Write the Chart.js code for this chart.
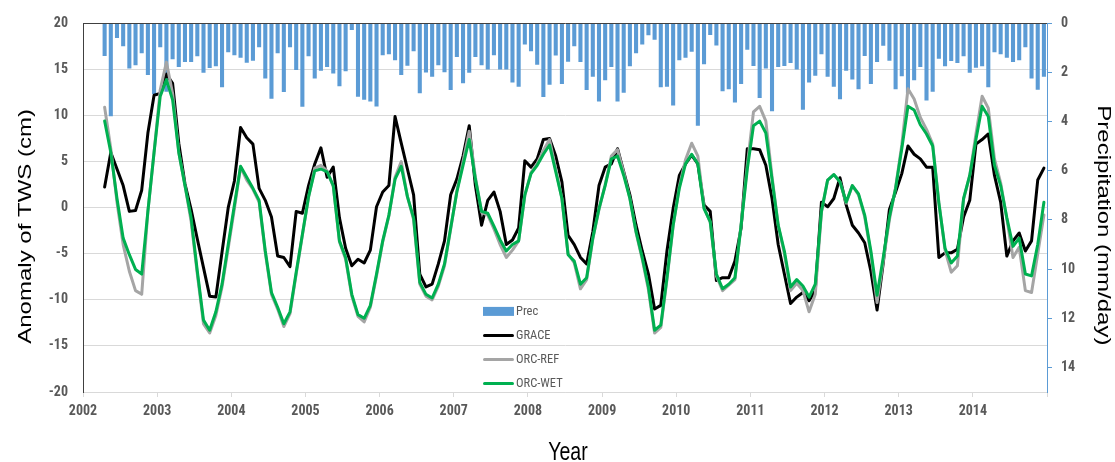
<!DOCTYPE html>
<html>
<head>
<meta charset="utf-8">
<title>TWS anomaly and precipitation</title>
<script src="https://cdn.jsdelivr.net/npm/chart.js@4.4.1/dist/chart.umd.min.js"></script>
<style>
  html, body { margin: 0; padding: 0; background: #ffffff; }
  #wrap { position: relative; width: 1115px; height: 462px; }
</style>
</head>
<body>
<div id="wrap"><canvas id="chart" width="1115" height="462"></canvas></div>
<script>
// Monthly series, April 2002 - December 2014 (one row per calendar year)
const firstYear = 2002;
const firstMonth = 4;

// Precipitation (mm/day)
const prec = [
  1.33, 3.78, 0.59, 0.93, 1.84, 1.70, 1.21, 2.10, 2.88,
  0.97, 2.78, 1.46, 1.77, 1.57, 1.57, 1.34, 2.01, 1.81, 1.74, 2.60, 1.17,
  1.30, 1.40, 1.60, 1.52, 0.97, 2.24, 3.07, 1.21, 2.79, 0.97, 1.90, 3.39,
  1.34, 2.24, 1.93, 1.77, 2.04, 2.56, 1.95, 0.27, 2.98, 3.11, 3.18, 3.38,
  1.30, 1.26, 1.50, 2.10, 1.72, 1.13, 2.84, 2.00, 2.17, 1.70, 1.99, 2.71,
  1.37, 2.44, 2.01, 1.37, 1.70, 1.88, 1.30, 1.88, 1.88, 2.40, 2.58, 0.86,
  1.13, 1.68, 3.00, 2.50, 1.31, 2.47, 1.56, 0.93, 1.57, 2.71, 2.17, 3.18,
  2.31, 1.77, 3.18, 2.82, 1.74, 1.21, 0.86, 0.48, 0.67, 2.60, 2.58, 3.34,
  1.50, 1.40, 1.15, 4.16, 1.66, 0.47, 0.90, 2.76, 2.68, 3.22, 2.47, 1.07,
  1.73, 3.04, 1.84, 3.58, 1.77, 1.73, 1.61, 1.88, 3.51, 2.40, 2.13, 1.26,
  2.17, 2.58, 3.09, 1.93, 2.28, 2.68, 1.33, 2.47, 1.57, 0.91, 1.52, 2.68,
  2.15, 2.84, 2.31, 1.77, 3.14, 2.78, 1.44, 1.74, 1.53, 1.61, 1.34, 2.01,
  1.80, 1.74, 2.60, 1.17, 1.26, 1.40, 1.57, 1.50, 0.97, 2.24, 2.70, 2.17
];

// GRACE TWS anomaly (cm)
const grace = [
  2.25, 6.0, 4.2, 2.4, -0.4, -0.3, 1.9, 8.1, 12.2,
  12.4, 14.5, 13.5, 7.0, 2.6, -0.2, -3.4, -6.5, -9.6, -9.7, -4.8, 0.0,
  2.9, 8.7, 7.6, 6.9, 2.1, 0.8, -1.0, -5.25, -5.4, -6.4, -0.4, -0.6,
  2.4, 4.75, 6.5, 3.3, 4.4, -1.1, -4.4, -6.3, -5.6, -6.0, -4.6, 0.1,
  1.7, 2.4, 9.9, 7.0, 4.2, 1.4, -7.2, -8.6, -8.3, -6.1, -3.6, 1.4,
  3.1, 5.6, 8.9, 2.4, -1.9, 0.8, 1.7, -0.4, -4.0, -3.5, -2.2, 5.1,
  4.4, 5.3, 7.4, 7.5, 5.6, 2.8, -3.0, -4.0, -5.4, -6.1, -2.6, 2.4,
  4.4, 4.75, 6.4, 3.9, 1.4, -1.9, -4.7, -7.2, -11.0, -10.6, -4.7, -0.1,
  3.5, 4.75, 5.7, 4.75, 0.3, -0.4, -7.9, -7.6, -7.6, -5.8, -2.2, 6.4,
  6.4, 6.3, 4.6, 1.0, -4.0, -7.2, -10.4, -9.7, -9.2, -10.1, -9.0, 0.6,
  0.1, 1.0, 3.25, 0.3, -1.9, -2.75, -3.8, -6.9, -11.1, -6.0, -0.2, 1.7,
  3.7, 6.7, 5.8, 5.3, 4.4, 4.4, -5.4, -4.9, -4.9, -4.5, -1.0, 0.8,
  6.9, 7.4, 8.0, 3.5, 0.6, -5.25, -3.6, -2.75, -4.7, -3.6, 3.0, 4.3
];

// ORCHIDEE reference run (cm)
const orcRef = [
  10.9, 6.4, 0.6, -4.0, -6.9, -9.0, -9.4, -0.4, 6.0,
  12.8, 15.8, 12.4, 6.0, 2.4, -1.5, -7.2, -12.6, -13.6, -11.7, -8.6, -4.4,
  -0.1, 4.4, 3.0, 2.0, 0.6, -4.9, -9.4, -11.0, -12.9, -11.5, -7.2, -3.0,
  1.1, 4.3, 4.6, 4.0, 2.3, -3.7, -5.6, -9.6, -11.8, -12.4, -10.8, -7.4,
  -3.7, -0.9, 3.3, 5.0, 1.2, -1.3, -8.3, -9.6, -10.0, -8.5, -6.3, -2.3,
  1.8, 5.0, 8.3, 3.3, -0.5, -0.8, -2.3, -4.0, -5.4, -4.6, -3.6, 1.3,
  3.8, 4.8, 6.2, 7.4, 4.2, 1.0, -5.0, -6.0, -8.8, -7.8, -3.4, -0.2,
  2.5, 5.6, 6.3, 3.8, 1.0, -2.7, -5.6, -8.9, -13.6, -13.0, -7.8, -2.0,
  2.3, 5.2, 7.0, 5.6, 0.0, -1.6, -7.4, -9.0, -8.4, -7.8, -1.8, 4.6,
  10.4, 11.0, 9.4, 3.4, -1.9, -5.0, -9.0, -8.2, -9.0, -11.3, -9.4, -0.5,
  3.0, 3.6, 2.8, 0.5, 2.4, 1.4, -1.0, -5.0, -10.3, -5.8, -1.3, 2.2,
  6.8, 12.9, 11.8, 9.8, 8.5, 6.9, 0.6, -4.6, -7.0, -6.3, 0.9, 3.5,
  8.0, 12.1, 10.8, 5.3, 2.7, -1.2, -5.4, -4.3, -9.0, -9.2, -5.0, -0.8
];

// ORCHIDEE wet run (cm)
const orcWet = [
  9.4, 6.0, 1.0, -3.3, -5.1, -6.7, -7.2, -0.4, 6.0,
  12.1, 13.9, 11.7, 6.0, 2.4, -1.1, -6.9, -12.2, -13.3, -11.3, -8.3, -4.0,
  0.3, 4.5, 3.3, 2.1, 0.8, -4.7, -9.2, -10.8, -12.6, -11.3, -7.0, -2.9,
  1.2, 4.0, 4.2, 3.9, 2.4, -3.6, -5.4, -9.4, -11.6, -12.0, -10.6, -7.2,
  -3.6, -0.8, 3.1, 4.5, 1.2, -1.1, -8.1, -9.4, -9.8, -8.3, -6.1, -2.2,
  1.7, 4.6, 7.4, 3.1, -0.4, -0.6, -2.0, -3.5, -4.7, -4.0, -3.6, 1.4,
  3.7, 4.6, 5.8, 6.8, 3.9, 1.0, -5.1, -5.8, -8.3, -7.6, -3.3, -0.1,
  2.4, 5.3, 5.6, 3.5, 1.0, -2.6, -5.4, -8.6, -13.3, -12.75, -7.6, -1.9,
  2.1, 4.75, 5.8, 4.75, -0.1, -1.5, -7.2, -8.8, -8.3, -7.6, -1.9, 4.2,
  8.9, 9.4, 8.1, 3.1, -1.9, -4.7, -8.6, -7.8, -8.5, -9.7, -8.3, -0.4,
  3.0, 3.6, 2.8, 0.6, 2.4, 1.5, -0.8, -4.7, -9.5, -5.4, -1.0, 2.1,
  6.4, 11.0, 10.6, 9.0, 8.0, 6.7, 0.5, -4.4, -6.0, -5.25, 1.0, 3.5,
  7.4, 11.0, 9.9, 4.6, 2.4, -1.1, -4.2, -3.3, -7.2, -7.4, -4.0, 0.6
];

const yearLabels = ['2002', '2003', '2004', '2005', '2006', '2007', '2008',
                    '2009', '2010', '2011', '2012', '2013', '2014'];
const axisEndYear = 2015;

const titles = {
  left: 'Anomaly of TWS (cm)',
  right: 'Precipitation (mm/day)',
  bottom: 'Year'
};

// Decimal-year position of each month (mid-month)
const monthPos = prec.map((_, k) => firstYear + (firstMonth - 1 + k + 0.5) / 12);
const toPoints = arr => arr.map((v, k) => ({ x: monthPos[k], y: v }));

const narrow = "'Liberation Sans Narrow', 'Arial Narrow', 'Roboto Condensed', 'Liberation Sans', sans-serif";
const plain = "'Liberation Sans', Arial, sans-serif";
const tickGrey = '#595959';
const precBlue = '#5b9bd5';

// Legend drawn inside the plot, below the curves
const innerLegend = {
  id: 'innerLegend',
  afterDraw(chart) {
    const { ctx, chartArea: a } = chart;
    const x0 = a.left + 400, w = 31, y0 = a.top + 288, step = 24;
    ctx.save();
    ctx.font = `12.5px ${narrow}`;
    ctx.textBaseline = 'middle';
    ctx.textAlign = 'left';
    chart.data.datasets.forEach((ds, k) => {
      const y = y0 + k * step;
      if (ds.type === 'bar') {
        ctx.fillStyle = ds.backgroundColor;
        ctx.fillRect(x0, y - 4.5, w, 9);
      } else {
        ctx.strokeStyle = ds.borderColor;
        ctx.lineWidth = 3;
        ctx.lineCap = 'round';
        ctx.beginPath();
        ctx.moveTo(x0 + 1.5, y);
        ctx.lineTo(x0 + w - 1.5, y);
        ctx.stroke();
      }
      ctx.fillStyle = tickGrey;
      ctx.fillText(ds.label, x0 + w + 2, y + 0.5);
    });
    ctx.restore();
  }
};

// Axis titles, drawn slightly condensed
const axisTitles = {
  id: 'axisTitles',
  afterDraw(chart) {
    const { ctx, chartArea: a } = chart;
    const squeeze = 0.75;
    ctx.save();
    ctx.fillStyle = '#000000';
    ctx.textAlign = 'center';
    ctx.textBaseline = 'middle';

    ctx.save();
    ctx.translate(26.5, a.top + 203);
    ctx.scale(squeeze, 1);
    ctx.rotate(-Math.PI / 2);
    ctx.font = `24px ${plain}`;
    ctx.fillText(titles.left, 0, 0);
    ctx.restore();

    ctx.save();
    ctx.translate(a.right + 56, a.top + 202);
    ctx.scale(squeeze, 1);
    ctx.rotate(Math.PI / 2);
    ctx.font = `24px ${plain}`;
    ctx.fillText(titles.right, 0, 0);
    ctx.restore();

    ctx.save();
    ctx.translate((a.left + a.right) / 2 + 3, a.bottom + 61);
    ctx.scale(squeeze, 1);
    ctx.font = `26px ${plain}`;
    ctx.fillText(titles.bottom, 0, 0);
    ctx.restore();

    ctx.restore();
  }
};

new Chart(document.getElementById('chart'), {
  type: 'bar',
  data: {
    datasets: [
      {
        type: 'bar', label: 'Prec', data: toPoints(prec), yAxisID: 'y1',
        backgroundColor: precBlue, borderWidth: 0,
        barPercentage: 0.66, categoryPercentage: 1.0, order: 4
      },
      {
        type: 'line', label: 'GRACE', data: toPoints(grace), yAxisID: 'y',
        borderColor: '#000000', borderWidth: 3, pointRadius: 0, tension: 0,
        borderJoinStyle: 'round', borderCapStyle: 'round', order: 3
      },
      {
        type: 'line', label: 'ORC-REF', data: toPoints(orcRef), yAxisID: 'y',
        borderColor: '#a5a5a5', borderWidth: 3, pointRadius: 0, tension: 0,
        borderJoinStyle: 'round', borderCapStyle: 'round', order: 2
      },
      {
        type: 'line', label: 'ORC-WET', data: toPoints(orcWet), yAxisID: 'y',
        borderColor: '#00b050', borderWidth: 3, pointRadius: 0, tension: 0,
        borderJoinStyle: 'round', borderCapStyle: 'round', order: 1
      }
    ]
  },
  options: {
    responsive: false,
    animation: false,
    layout: { padding: { top: 19, left: 0, right: 0, bottom: 0 } },
    plugins: { legend: { display: false }, tooltip: { enabled: false } },
    scales: {
      x: {
        type: 'linear',
        min: firstYear,
        max: axisEndYear,
        offset: false,
        afterBuildTicks: s => {
          const vals = yearLabels.map(Number).concat([axisEndYear]);
          s.ticks = vals.map(v => ({ value: v }));
        },
        ticks: {
          autoSkip: false, maxRotation: 0, padding: 6, color: tickGrey,
          font: { family: narrow, size: 14, weight: 'bold' },
          callback: v => yearLabels.includes(String(v)) ? String(v) : ''
        },
        grid: { offset: false, drawOnChartArea: false, drawTicks: true, tickLength: 5, color: '#d9d9d9' },
        border: { color: '#d9d9d9' },
        afterFit: s => { s.height = 70; }
      },
      y: {
        position: 'left',
        min: -20, max: 20,
        ticks: {
          stepSize: 5, padding: 15, color: tickGrey,
          font: { family: narrow, size: 14, weight: 'bold' }
        },
        grid: {
          drawTicks: false,
          color: c => (c.tick && c.tick.value === 20) ? '#404040' : '#d9d9d9'
        },
        border: { color: '#404040' },
        afterFit: s => { s.width = 83; }
      },
      y1: {
        position: 'right',
        reverse: true,
        min: 0, max: 15,
        ticks: {
          stepSize: 2, includeBounds: false, padding: 9, color: tickGrey,
          font: { family: narrow, size: 14, weight: 'bold' }
        },
        grid: { drawOnChartArea: false, drawTicks: true, tickLength: 5, color: precBlue },
        border: { color: precBlue },
        afterFit: s => { s.width = 68; }
      }
    }
  },
  plugins: [innerLegend, axisTitles]
});
</script>
</body>
</html>
